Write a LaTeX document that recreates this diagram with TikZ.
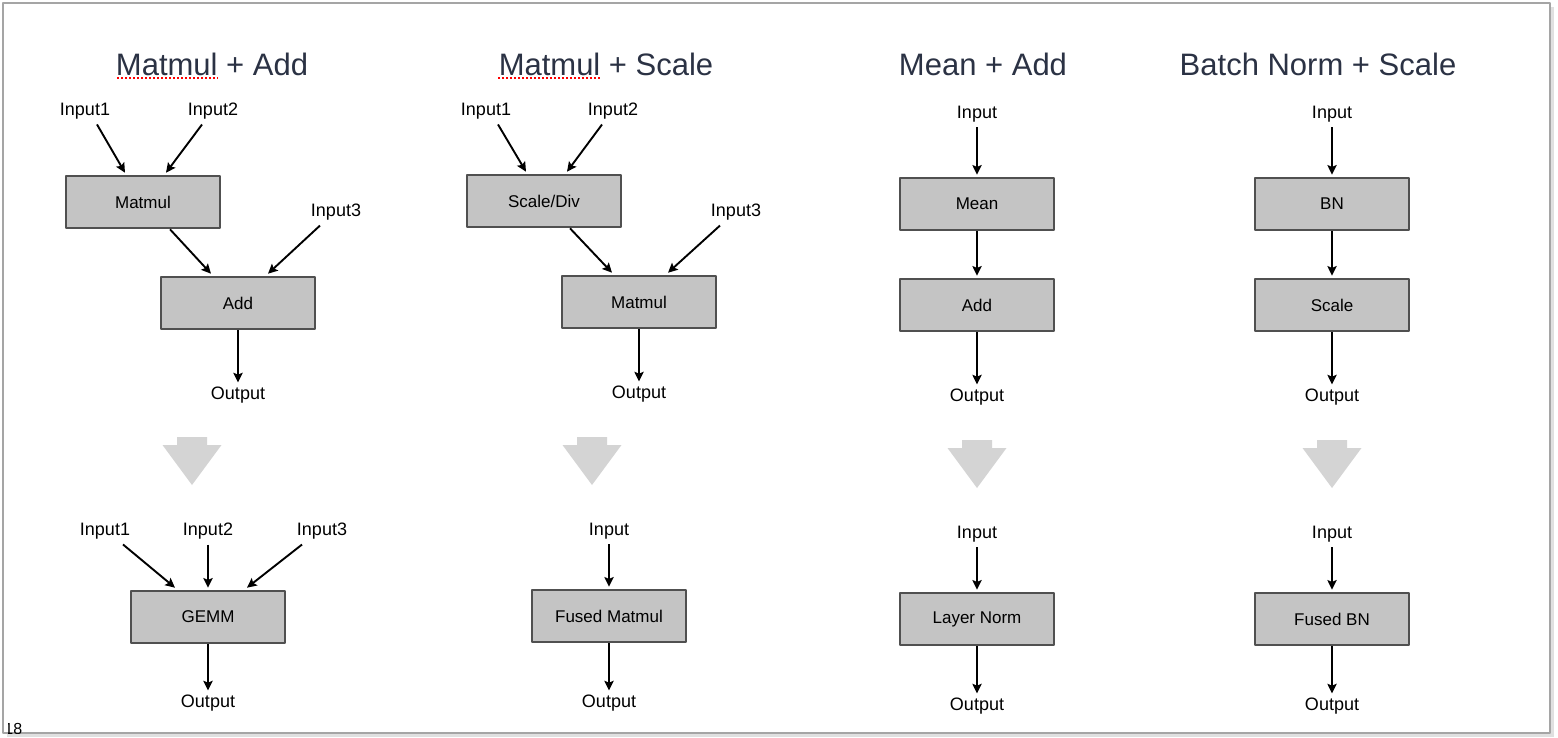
\documentclass[tikz,border=0pt]{standalone}
\usepackage{fontspec}
\setmainfont{Liberation Sans}
\usetikzlibrary{arrows.meta}
\definecolor{titlecol}{RGB}{43,50,68}
\definecolor{boxfill}{RGB}{196,196,196}
\definecolor{boxline}{RGB}{80,80,80}
\definecolor{bigarrow}{RGB}{212,212,212}
\definecolor{framecol}{RGB}{165,165,165}
\begin{document}
\begin{tikzpicture}[x=0.5pt,y=-0.5pt,line join=round,>={Stealth[length=4.8pt,width=4.6pt,inset=0.9pt]}]
                \tikzset{op style/.style={draw=boxline,line width=1.3pt,fill=boxfill,minimum width=77pt,minimum height=26pt,inner sep=0pt,font=\fontsize{8.5}{10}\selectfont},
                    io style/.style={font=\fontsize{9}{11}\selectfont,inner sep=1pt},
                    title style/.style={font=\fontsize{15.5}{18}\selectfont,text=titlecol},
                    flow/.style={->,line width=0.95pt},
                    typo/.style={red,line width=0.6pt,dash pattern=on 1pt off 1pt}}
                \useasboundingbox (0,0) rectangle (1558,738);
                % slide frame
                \fill[black!12] (7,7) rectangle (1554,737);
                \fill[white] (3,3) rectangle (1550,733);
                \draw[framecol,line width=0.6pt] (3,3) rectangle (1550,733);
                \begin{scope}
                    \clip (8,3) rectangle (1550,733);
                    \node[anchor=south west,inner sep=0pt,font=\fontsize{8}{9}\selectfont] (pg) at (4,735) {18};
                \end{scope}
                % titles
                \node[title style] (t1) at (212,64) {Matmul + Add};
                \node[title style] (t2) at (606,64) {Matmul + Scale};
                \node[title style] (t3) at (983,64) {Mean + Add};
                \node[title style] (t4) at (1318,64) {Batch Norm + Scale};
                \draw[typo] (117,78)--(218,78);
                \draw[typo] (498,78)--(600,78);
                % big transform arrows
                \foreach \x/\y in {192/437,592/437,977/440,1332/440}
                \fill[bigarrow] (\x-15,\y)--(\x+15,\y)--(\x+15,\y+8)--(\x+29.5,\y+8)--(\x,\y+48)--(\x-29.5,\y+8)--(\x-15,\y+8)--cycle;
                % Matmul + Add
                \node[io style] (a1) at (85,111) {Input1};
                \node[io style] (a2) at (213,111) {Input2};
                \node[op style] (amm) at (143,202) {Matmul};
                \node[io style] (a3) at (336,212) {Input3};
                \node[op style] (aadd) at (238,303) {Add};
                \node[io style] (aout) at (238,395) {Output};
                \draw[flow] ([shift={(12,3)}]a1.south)--([shift={(-18,-2)}]amm.north);
                \draw[flow] ([shift={(-11,3)}]a2.south)--([shift={(23,-2)}]amm.north);
                \draw[flow] ([shift={(27,0)}]amm.south)--([shift={(-27,-2)}]aadd.north);
                \draw[flow] ([shift={(-16,3)}]a3.south)--([shift={(30,-2)}]aadd.north);
                \draw[flow] (aadd.south)--([shift={(0,-2)}]aout.north);
                \node[io style] (b1) at (105,531) {Input1};
                \node[io style] (b2) at (208,531) {Input2};
                \node[io style] (b3) at (322,531) {Input3};
                \node[op style] (gemm) at (208,617) {GEMM};
                \node[io style] (bout) at (208,703) {Output};
                \draw[flow] ([shift={(18,3)}]b1.south)--([shift={(-33,-2)}]gemm.north);
                \draw[flow] ([shift={(0,3)}]b2.south)--([shift={(0,-2)}]gemm.north);
                \draw[flow] ([shift={(-20,3)}]b3.south)--([shift={(39,-2)}]gemm.north);
                \draw[flow] (gemm.south)--([shift={(0,-2)}]bout.north);
                % Matmul + Scale
                \node[io style] (c1) at (486,111) {Input1};
                \node[io style] (c2) at (613,111) {Input2};
                \node[op style] (cdiv) at (544,201) {Scale/Div};
                \node[io style] (c3) at (736,212) {Input3};
                \node[op style] (cmm) at (639,302) {Matmul};
                \node[io style] (cout) at (639,394) {Output};
                \draw[flow] ([shift={(12,3)}]c1.south)--([shift={(-18,-2)}]cdiv.north);
                \draw[flow] ([shift={(-11,3)}]c2.south)--([shift={(23,-2)}]cdiv.north);
                \draw[flow] ([shift={(26,0)}]cdiv.south)--([shift={(-27,-2)}]cmm.north);
                \draw[flow] ([shift={(-16,3)}]c3.south)--([shift={(29,-2)}]cmm.north);
                \draw[flow] (cmm.south)--([shift={(0,-2)}]cout.north);
                \node[io style] (d1) at (609,531) {Input};
                \node[op style] (fmm) at (609,616) {Fused Matmul};
                \node[io style] (dout) at (609,703) {Output};
                \draw[flow] ([shift={(0,3)}]d1.south)--([shift={(0,-2)}]fmm.north);
                \draw[flow] (fmm.south)--([shift={(0,-2)}]dout.north);
                % Mean + Add
                \node[io style] (e1) at (977,114) {Input};
                \node[op style] (emean) at (977,204) {Mean};
                \node[op style] (eadd) at (977,305) {Add};
                \node[io style] (eout) at (977,397) {Output};
                \draw[flow] ([shift={(0,3)}]e1.south)--([shift={(0,-2)}]emean.north);
                \draw[flow] (emean.south)--([shift={(0,-2)}]eadd.north);
                \draw[flow] (eadd.south)--([shift={(0,-2)}]eout.north);
                \node[io style] (f1) at (977,534) {Input};
                \node[op style] (ln) at (977,619) {Layer Norm};
                \node[io style] (fout) at (977,706) {Output};
                \draw[flow] ([shift={(0,3)}]f1.south)--([shift={(0,-2)}]ln.north);
                \draw[flow] (ln.south)--([shift={(0,-2)}]fout.north);
                % Batch Norm + Scale
                \node[io style] (g1) at (1332,114) {Input};
                \node[op style] (gbn) at (1332,204) {BN};
                \node[op style] (gscale) at (1332,305) {Scale};
                \node[io style] (gout) at (1332,397) {Output};
                \draw[flow] ([shift={(0,3)}]g1.south)--([shift={(0,-2)}]gbn.north);
                \draw[flow] (gbn.south)--([shift={(0,-2)}]gscale.north);
                \draw[flow] (gscale.south)--([shift={(0,-2)}]gout.north);
                \node[io style] (h1) at (1332,534) {Input};
                \node[op style] (fbn) at (1332,619) {Fused BN};
                \node[io style] (hout) at (1332,706) {Output};
                \draw[flow] ([shift={(0,3)}]h1.south)--([shift={(0,-2)}]fbn.north);
                \draw[flow] (fbn.south)--([shift={(0,-2)}]hout.north);
            \end{tikzpicture}
\end{document}
